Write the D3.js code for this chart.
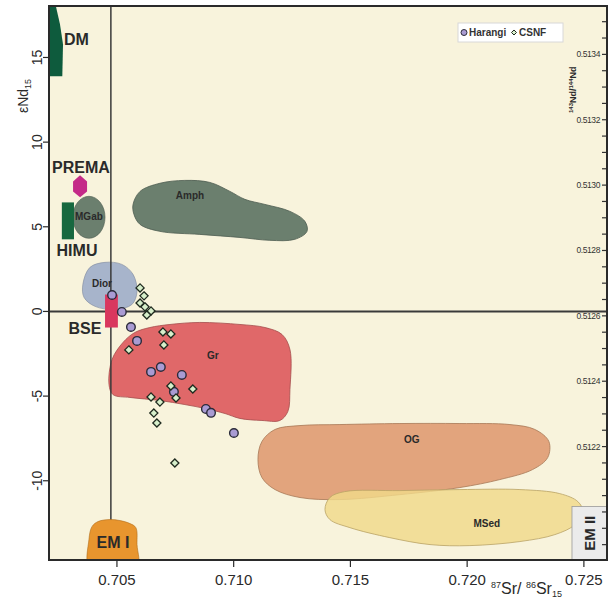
<!DOCTYPE html>
<html><head><meta charset="utf-8">
<script src="https://cdn.jsdelivr.net/npm/d3@7"></script>
<style>
body{margin:0;background:#fff;}
svg{display:block;font-family:"Liberation Sans",Arial,Helvetica,sans-serif;}
</style>
</head><body>
<svg id="chart" width="614" height="598"></svg>
<script>
// ---------------- DATA ----------------
const xTicks = [0.705, 0.710, 0.715, 0.720, 0.725];
const xTickLabels = ["0.705", "0.710", "0.715", "0.720", "0.725"];
const yTicks = [15, 10, 5, 0, -5, -10];
const yTickLabels = ["15", "10", "5", "0", "-5", "-10"];
const ndMajorTicks = [0.5122, 0.5124, 0.5126, 0.5128, 0.5130, 0.5132, 0.5134];
const ndTickLabels = ["0.5122", "0.5124", "0.5126", "0.5128", "0.5130", "0.5132", "0.5134"];
const ndMinorStep = 0.00005;

// Harangi (circles): 87Sr/86Sr, eNd
const harangiSr  = [0.70479, 0.70521, 0.70560, 0.70586, 0.70646, 0.70688, 0.70778, 0.70744, 0.70881, 0.70903, 0.71001];
const harangiEps = [0.97, -0.03, -0.92, -1.74, -3.57, -3.28, -3.75, -4.75, -5.76, -5.99, -7.18];
// CSNF (diamonds)
const csnfSr  = [0.70599, 0.70616, 0.70599, 0.70620, 0.70646, 0.70628, 0.70697, 0.70731, 0.70701, 0.70551, 0.70731, 0.70825, 0.70646, 0.70684, 0.70753, 0.70658, 0.70671, 0.70748];
const csnfEps = [1.39, 0.92, 0.50, 0.27, 0.03, -0.21, -1.21, -1.33, -1.98, -2.27, -4.40, -4.58, -5.05, -5.35, -5.11, -6.00, -6.59, -8.95];

// reference lines (BSE)
const bseSr = 0.70474;
const bseEps = 0;

// fields (outlines in 87Sr/86Sr, eNd)
const dmOutline = [[0.7019,18.3],[0.70234,18.3],[0.70256,16.96],[0.70269,15.78],[0.70266,13.89],[0.7019,13.89]];
const premaOutline = [[0.70342,8.04],[0.70372,7.68],[0.70372,7.09],[0.70342,6.74],[0.70312,7.09],[0.70312,7.68]];
const mgabCenter = [0.70380, 5.56], mgabRadius = [0.00069, 1.24];
const himuBox = [[0.70264, 6.44], [0.70316, 4.26]];
const diorOutline = [[0.70354,1.60],[0.70384,2.60],[0.70449,2.90],[0.70521,2.78],[0.70569,2.19],[0.70586,1.18],[0.70564,0.41],[0.70491,0.12],[0.70406,0.30],[0.70359,0.83]];
const bseBox = [[0.70449, 1.00], [0.70504, -0.95]];
const amphOutline = [[0.70569,6.32],[0.70599,7.09],[0.70684,7.57],[0.70791,7.74],[0.70898,7.62],[0.70984,7.09],[0.71048,6.62],[0.71134,6.32],[0.71241,5.91],[0.71305,5.32],[0.71314,4.73],[0.71262,4.26],[0.71155,4.20],[0.71027,4.37],[0.70855,4.55],[0.70684,4.73],[0.70599,5.14],[0.70573,5.73]];
const grOutline = [[0.70526,-1.83],[0.70577,-1.24],[0.70641,-0.95],[0.70727,-0.77],[0.70855,-0.65],[0.71027,-0.77],[0.71134,-0.95],[0.71207,-1.36],[0.71241,-2.25],[0.71241,-4.61],[0.71232,-5.91],[0.71198,-6.44],[0.71121,-6.44],[0.71027,-6.32],[0.70963,-6.03],[0.70877,-5.73],[0.70791,-5.50],[0.70684,-5.26],[0.70556,-5.08],[0.70483,-4.91],[0.70466,-4.31],[0.70479,-2.84]];
const ogOutline = [[0.71104,-8.75],[0.71121,-7.68],[0.71177,-6.97],[0.71284,-6.74],[0.71455,-6.68],[0.71712,-6.62],[0.71969,-6.62],[0.72183,-6.68],[0.72290,-6.97],[0.72350,-7.68],[0.72345,-8.63],[0.72280,-9.34],[0.72140,-9.93],[0.71969,-10.40],[0.71712,-10.82],[0.71455,-11.11],[0.71284,-10.99],[0.71177,-10.52],[0.71121,-9.81]];
const msedOutline = [[0.71391,-11.70],[0.71412,-10.99],[0.71476,-10.64],[0.71712,-10.58],[0.71969,-10.52],[0.72226,-10.52],[0.72397,-10.76],[0.72474,-11.23],[0.72496,-11.82],[0.72462,-12.59],[0.72376,-13.18],[0.72226,-13.59],[0.72012,-13.83],[0.71841,-13.77],[0.71669,-13.36],[0.71498,-12.77],[0.71412,-12.29]];
const em1Outline = [[0.70384,-15.2],[0.70380,-13.48],[0.70393,-12.71],[0.70419,-12.41],[0.70470,-12.29],[0.70513,-12.35],[0.70556,-12.53],[0.70581,-12.77],[0.70586,-13.77],[0.70586,-15.2]];
const em2Box = [[0.72449, -11.52], [0.7270, -15.2]];

// field labels
const fieldLabels = ["MGab", "Dior", "Amph", "Gr", "OG", "MSed"];
const fieldLabelPos = [[0.70380,5.40],[0.70436,1.45],[0.70813,6.65],[0.70911,-2.80],[0.71763,-7.75],[0.72084,-12.72]];
const endLabels = ["DM", "PREMA", "HIMU", "BSE", "EM I"];
const endLabelPos = [[0.70273,15.75],[0.70346,8.2],[0.70329,3.25],[0.70363,-1.35],[0.70483,-13.95]];
const endLabelAnchor = ["start", "middle", "middle", "middle", "middle"];

// ---------------- CHART ----------------
const W = 614, H = 598;
const L = 49, T = 6, R = 607, B = 560;
const svg = d3.select("#chart");

const x = d3.scaleLinear().domain([0.70209, 0.72599]).range([L, R]);
const y = d3.scaleLinear().domain([-14.68, 18.04]).range([B, T]);
const yNd = d3.scaleLinear().domain([0.511853, 0.513548]).range([B, T]);

svg.append("defs").append("clipPath").attr("id", "plotclip")
  .append("rect").attr("x", L).attr("y", T).attr("width", R - L).attr("height", B - T);

svg.append("rect").attr("x", L).attr("y", T).attr("width", R - L).attr("height", B - T)
  .attr("fill", "#f8f3dc");

const plot = svg.append("g").attr("clip-path", "url(#plotclip)");
const lineSmooth = d3.line().x(d => x(d[0])).y(d => y(d[1])).curve(d3.curveCatmullRomClosed.alpha(0.5));
const lineLin = d3.line().x(d => x(d[0])).y(d => y(d[1])).curve(d3.curveLinearClosed);

function box(b, fill, stroke) {
  plot.append("rect")
    .attr("x", x(b[0][0])).attr("y", y(b[0][1]))
    .attr("width", x(b[1][0]) - x(b[0][0])).attr("height", y(b[1][1]) - y(b[0][1]))
    .attr("fill", fill).attr("stroke", stroke || "none").attr("stroke-width", 0.8);
}

// right axis (drawn under fields)
const rightAxis = svg.append("g");
const minorTicks = d3.range(Math.ceil(0.511853 / ndMinorStep), Math.floor(0.513548 / ndMinorStep) + 1).map(k => k * ndMinorStep);
rightAxis.selectAll("line.mt").data(minorTicks).join("line")
  .attr("x1", R - 5).attr("x2", R).attr("y1", d => yNd(d)).attr("y2", d => yNd(d))
  .attr("stroke", "#333").attr("stroke-width", 1.2);
rightAxis.selectAll("text").data(ndMajorTicks).join("text")
  .attr("x", R - 7).attr("y", d => yNd(d) + 3)
  .attr("text-anchor", "end").attr("font-size", 8.5).attr("letter-spacing", -0.4)
  .attr("fill", "#333")
  .text((d, i) => ndTickLabels[i]);

// fields
plot.append("path").attr("d", lineLin(dmOutline)).attr("fill", "#0e5b3d");
plot.append("path").attr("d", lineSmooth(ogOutline)).attr("fill", "#e2a47d").attr("stroke", "#a77756").attr("stroke-width", 0.8);
plot.append("path").attr("d", lineSmooth(msedOutline)).attr("fill", "#f0d98a").attr("fill-opacity", 0.82).attr("stroke", "#b9a264").attr("stroke-width", 0.8);
plot.append("path").attr("d", lineSmooth(grOutline)).attr("fill", "#e06869").attr("stroke", "#a54c4d").attr("stroke-width", 0.8);
plot.append("path").attr("d", lineSmooth(amphOutline)).attr("fill", "#6b7f6e").attr("stroke", "#4d5c50").attr("stroke-width", 0.8);
plot.append("ellipse").attr("cx", x(mgabCenter[0])).attr("cy", y(mgabCenter[1]))
  .attr("rx", x(mgabCenter[0] + mgabRadius[0]) - x(mgabCenter[0]))
  .attr("ry", y(mgabCenter[1] - mgabRadius[1]) - y(mgabCenter[1]))
  .attr("fill", "#6b7f6e").attr("stroke", "#4d5c50").attr("stroke-width", 0.6);
plot.append("path").attr("d", lineLin(premaOutline)).attr("fill", "#c42a88");
box(himuBox, "#17683f");
plot.append("path").attr("d", lineSmooth(diorOutline)).attr("fill", "#a7b4cb").attr("stroke", "#7d889c").attr("stroke-width", 0.6);

// reference lines
plot.append("line").attr("x1", L).attr("x2", R).attr("y1", y(bseEps)).attr("y2", y(bseEps))
  .attr("stroke", "#3a3a3a").attr("stroke-width", 2);
plot.append("line").attr("x1", x(bseSr)).attr("x2", x(bseSr)).attr("y1", T).attr("y2", B)
  .attr("stroke", "#3a3a3a").attr("stroke-width", 1.5);

box(bseBox, "#d9375e");
plot.append("path").attr("d", lineSmooth(em1Outline)).attr("fill", "#e8952e").attr("stroke", "#b06c1a").attr("stroke-width", 0.6);
box(em2Box, "#ebebeb", "#9a9a9a");

// field labels
plot.selectAll("text.fl").data(fieldLabels).join("text")
  .attr("x", (d, i) => x(fieldLabelPos[i][0])).attr("y", (d, i) => y(fieldLabelPos[i][1]))
  .attr("text-anchor", "middle").attr("font-size", 10).attr("font-weight", "bold")
  .attr("fill", "#2a2a2a").text(d => d);

// data points
const circles = harangiSr.map((v, i) => [v, harangiEps[i]]);
const diamonds = csnfSr.map((v, i) => [v, csnfEps[i]]);
plot.selectAll("circle.h").data(circles).join("circle")
  .attr("cx", d => x(d[0])).attr("cy", d => y(d[1])).attr("r", 4.3)
  .attr("fill", "#a99bd3").attr("stroke", "#2b2b3a").attr("stroke-width", 1.4);
const diamondPath = d3.symbol().type(d3.symbolDiamond2).size(42);
plot.selectAll("path.c").data(diamonds).join("path")
  .attr("transform", d => `translate(${x(d[0])},${y(d[1])})`)
  .attr("d", diamondPath())
  .attr("fill", "#d7efcb").attr("stroke", "#1f2a1f").attr("stroke-width", 1.3);

// end-member labels
svg.selectAll("text.el").data(endLabels).join("text")
  .attr("x", (d, i) => x(endLabelPos[i][0])).attr("y", (d, i) => y(endLabelPos[i][1]))
  .attr("text-anchor", (d, i) => endLabelAnchor[i])
  .attr("font-size", 16).attr("font-weight", "bold").attr("fill", "#2a2a2a")
  .text(d => d);
svg.append("text")
  .attr("transform", `translate(${(x(em2Box[0][0]) + R) / 2 + 6},${(y(em2Box[0][1]) + B) / 2}) rotate(-90)`)
  .attr("text-anchor", "middle").attr("font-size", 15).attr("font-weight", "bold").attr("fill", "#2a2a2a")
  .text("EM II");

// frame
svg.append("rect").attr("x", L).attr("y", T).attr("width", R - L).attr("height", B - T)
  .attr("fill", "none").attr("stroke", "#2a2a2a").attr("stroke-width", 2);

// left axis
svg.selectAll("line.yt").data(yTicks).join("line")
  .attr("x1", L - 6).attr("x2", L).attr("y1", d => y(d)).attr("y2", d => y(d))
  .attr("stroke", "#2a2a2a").attr("stroke-width", 1.2);
svg.selectAll("text.yl").data(yTicks).join("text")
  .attr("transform", d => `translate(42,${y(d)}) rotate(-90)`)
  .attr("text-anchor", "middle").attr("font-size", 14).attr("fill", "#2a2a2a")
  .text((d, i) => yTickLabels[i]);
const yTitle = svg.append("text").attr("transform", "translate(28,96) rotate(-90)")
  .attr("text-anchor", "middle").attr("font-size", 14).attr("fill", "#2a2a2a");
yTitle.append("tspan").text("εNd");
yTitle.append("tspan").attr("font-size", 9).attr("dy", 3).text("15");

// bottom axis
svg.selectAll("line.xt").data(xTicks).join("line")
  .attr("x1", d => x(d)).attr("x2", d => x(d)).attr("y1", B).attr("y2", B + 7)
  .attr("stroke", "#2a2a2a").attr("stroke-width", 1.2);
svg.selectAll("text.xl").data(xTicks).join("text")
  .attr("x", d => x(d)).attr("y", 585)
  .attr("text-anchor", "middle").attr("font-size", 15).attr("fill", "#2a2a2a")
  .text((d, i) => xTickLabels[i]);
const xTitle = svg.append("text").attr("x", 491).attr("y", 594).attr("font-size", 16).attr("fill", "#2a2a2a");
xTitle.append("tspan").attr("font-size", 9).attr("dy", -6).text("87");
xTitle.append("tspan").attr("dy", 6).text("Sr/ ");
xTitle.append("tspan").attr("font-size", 9).attr("dy", -6).text("86");
xTitle.append("tspan").attr("dy", 6).text("Sr");
xTitle.append("tspan").attr("font-size", 9).attr("dy", 3).text("15");

// right axis title (reads bottom to top)
const rTitle = svg.append("text").attr("transform", "translate(576,113) rotate(-90)")
  .attr("font-size", 9).attr("font-weight", "bold").attr("fill", "#2a2a2a");
rTitle.append("tspan").attr("font-size", 6).attr("dy", -3).text("143");
rTitle.append("tspan").attr("dy", 3).text("Nd/");
rTitle.append("tspan").attr("font-size", 6).attr("dy", -3).text("144");
rTitle.append("tspan").attr("dy", 3).text("Nd");

// legend
const lg = svg.append("g");
lg.append("rect").attr("x", 458).attr("y", 23).attr("width", 105).attr("height", 19)
  .attr("fill", "#fff").attr("stroke", "#d8d8d8").attr("stroke-width", 1);
lg.append("circle").attr("cx", 464).attr("cy", 32.5).attr("r", 3)
  .attr("fill", "#a99bd3").attr("stroke", "#2b2b3a").attr("stroke-width", 1);
lg.append("text").attr("x", 469).attr("y", 36).attr("font-size", 10).attr("font-weight", "bold")
  .attr("fill", "#333").text("Harangi");
lg.append("path").attr("transform", "translate(514,32.5)").attr("d", d3.symbol().type(d3.symbolDiamond2).size(16)())
  .attr("fill", "#d7efcb").attr("stroke", "#1f2a1f").attr("stroke-width", 1);
lg.append("text").attr("x", 519).attr("y", 36).attr("font-size", 10).attr("font-weight", "bold")
  .attr("fill", "#333").text("CSNF");
</script>
</body></html>
